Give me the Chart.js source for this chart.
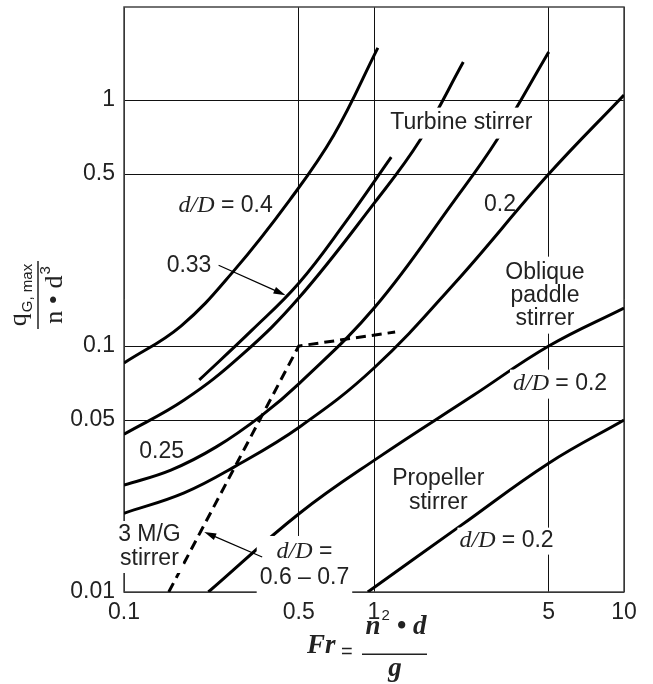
<!DOCTYPE html>
<html>
<head>
<meta charset="utf-8">
<script src="https://cdn.jsdelivr.net/npm/chart.js@4.4.1/dist/chart.umd.min.js"></script>
<style>
  html, body { margin: 0; padding: 0; background: #fff; }
</style>
</head>
<body>
<canvas id="chart" width="653" height="684"></canvas>
<script>
// axis ticks
const xTickVals = [0.1, 0.5, 1, 5, 10]
const xTickText = ['0.1', '0.5', '1', '5', '10']
const yTickVals = [0.01, 0.05, 0.1, 0.5, 1]
const yTickText = ['0.01', '0.05', '0.1', '0.5', '1']

// turbine stirrer curves (Fr, qG,max / n d^3)
const turb040Fr = [0.1, 0.169, 0.277, 0.46, 0.691, 1.036]
const turb040Q  = [0.0853, 0.1206, 0.204, 0.392, 0.721, 1.63]
const turb033Fr = [0.2, 0.325, 0.5, 0.759, 1.172]
const turb033Q  = [0.0728, 0.116, 0.180, 0.313, 0.586]
const turbAFr = [0.1, 0.174, 0.296, 0.5, 1.009, 1.529, 2.276]
const turbAQ  = [0.0438, 0.0603, 0.0920, 0.1567, 0.3846, 0.688, 1.427]
const turb025Fr = [0.1, 0.154, 0.234, 0.357, 0.504, 1.009, 2.102, 3.10, 5.0]
const turb025Q  = [0.0272, 0.0313, 0.0389, 0.0524, 0.0707, 0.144, 0.392, 0.688, 1.567]
const turb020Fr = [0.1, 0.174, 0.275, 0.504, 1.0, 2.102, 5.0, 10]
const turb020Q  = [0.0209, 0.0253, 0.0322, 0.0469, 0.0814, 0.180, 0.5, 1.048]

// oblique paddle stirrer, d/D = 0.2
const paddleFr = [0.2175, 0.504, 1.036, 2.508, 5.0, 10]
const paddleQ  = [0.01, 0.0209, 0.0351, 0.0632, 0.1, 0.1427]

// propeller stirrer, d/D = 0.2
const propFr = [0.9445, 2.236, 5.0, 10]
const propQ  = [0.01, 0.0187, 0.0334, 0.05]

// 3 M/G stirrer, d/D = 0.6 - 0.7 (dashed)
const mgFr = [0.151, 0.5, 1.215]
const mgQ  = [0.01, 0.1, 0.114]

// text notes placed at (Fr, q) positions
const I = "italic 24px 'Liberation Serif'"
const S = "23px 'Liberation Sans'"
const noteFr = [0.255, 0.182, 2.236, 3.19, 4.83, 5.55, 0.1414, 1.808, 3.39, 0.1264, 0.527]
const noteQ  = [0.371, 0.213, 0.806, 0.374, 0.161, 0.070, 0.0371, 0.0258, 0.0161, 0.01524, 0.01288]
const noteLines = [
    [[['d/D', I], [' = 0.4', S]]],
    [[['0.33', S]]],
    [[['Turbine stirrer', S]]],
    [[['0.2', S]]],
    [[['Oblique', S]], [['paddle', S]], [['stirrer', S]]],
    [[['d/D', I], [' = 0.2', S]]],
    [[['0.25', S]]],
    [[['Propeller', S]], [['stirrer', S]]],
    [[['d/D', I], [' = 0.2', S]]],
    [[['3 M/G', S]], [['stirrer', S]]],
    [[['d/D', I], [' =', S]], [['0.6 \u2013 0.7', S]]]
]
const noteLineH = [23, 23, 23, 23, 23, 23, 23, 24, 23, 24, 26]
// white box behind the note (pad in px, -1 = none; width 0 = text width)
const notePad  = [-1, -1, 4, -1, 4, 3, -1, -1, 2, 2, 3]
const noteBoxW = [0, 0, 0, 0, 16, 0, 0, 0, 0, 0, 0]

// arrows from label to curve
const arrowFrom = [[0.239, 0.213], [0.357, 0.01387]]
const arrowTo   = [[0.4426, 0.161], [0.2094, 0.01754]]

function pts(xs, ys) {
    return xs.map((x, i) => ({x: x, y: ys[i]}))
}

function curve(xs, ys) {
    return {
        data: pts(xs, ys),
        borderColor: '#000',
        borderWidth: 3,
        pointRadius: 0,
        tension: 0.4,
        fill: false
    }
}

function runsWidth(ctx, runs) {
    let w = 0
    runs.forEach(r => { ctx.font = r[1]; w += ctx.measureText(r[0]).width })
    return w
}

function drawRuns(ctx, runs, cx, cy) {
    let x = cx - runsWidth(ctx, runs) / 2
    runs.forEach(r => {
        ctx.font = r[1]
        ctx.fillText(r[0], x, cy)
        x += ctx.measureText(r[0]).width
    })
}

const notes = {
    id: 'notes',
    beforeDatasetsDraw(chart) {
        const ctx = chart.ctx
        const a = chart.chartArea
        ctx.save()
        ctx.strokeStyle = '#444'
        ctx.lineWidth = 1.5
        ctx.strokeRect(a.left, a.top, a.right - a.left, a.bottom - a.top)
        ctx.restore()
    },
    afterDatasetsDraw(chart) {
        const ctx = chart.ctx
        const xs = chart.scales.x
        const ys = chart.scales.y
        ctx.save()
        ctx.textBaseline = 'middle'

        // labels, some with white boxes
        noteLines.forEach((lines, k) => {
            const cx = xs.getPixelForValue(noteFr[k])
            const cy = ys.getPixelForValue(noteQ[k])
            const lh = noteLineH[k]
            const w = noteBoxW[k] || Math.max(...lines.map(l => runsWidth(ctx, l)))
            const h = lines.length * lh
            const p = notePad[k]
            if (p >= 0) {
                ctx.fillStyle = '#fff'
                ctx.fillRect(cx - w / 2 - p, cy - h / 2 - p, w + 2 * p, h + 2 * p)
            }
            ctx.fillStyle = '#222'
            lines.forEach((l, j) => {
                drawRuns(ctx, l, cx, cy - h / 2 + lh * (j + 0.5))
            })
        })

        // arrows
        ctx.strokeStyle = '#000'
        ctx.fillStyle = '#000'
        ctx.lineWidth = 1.2
        arrowFrom.forEach((f, k) => {
            const x1 = xs.getPixelForValue(f[0]), y1 = ys.getPixelForValue(f[1])
            const x2 = xs.getPixelForValue(arrowTo[k][0]), y2 = ys.getPixelForValue(arrowTo[k][1])
            const ang = Math.atan2(y2 - y1, x2 - x1)
            ctx.beginPath()
            ctx.moveTo(x1, y1)
            ctx.lineTo(x2 - 8 * Math.cos(ang), y2 - 8 * Math.sin(ang))
            ctx.stroke()
            ctx.beginPath()
            ctx.moveTo(x2, y2)
            ctx.lineTo(x2 - 12 * Math.cos(ang) + 3.5 * Math.sin(ang), y2 - 12 * Math.sin(ang) - 3.5 * Math.cos(ang))
            ctx.lineTo(x2 - 12 * Math.cos(ang) - 3.5 * Math.sin(ang), y2 - 12 * Math.sin(ang) + 3.5 * Math.cos(ang))
            ctx.closePath()
            ctx.fill()
        })

        // y axis title: q_G,max / (n . d^3), rotated
        ctx.fillStyle = '#222'
        ctx.textBaseline = 'alphabetic'
        ctx.translate(38, 295)
        ctx.rotate(-Math.PI / 2)
        const serif = "26px 'Liberation Serif'"
        const small = "15px 'Liberation Sans'"
        ctx.font = serif
        const qw = ctx.measureText('q').width
        ctx.font = small
        const gw = ctx.measureText('G, max').width
        let x0 = -(qw + gw + 1) / 2
        ctx.font = serif
        ctx.fillText('q', x0, -12)
        ctx.font = small
        ctx.fillText('G, max', x0 + qw + 1, -6)
        ctx.fillRect(-34, -0.75, 68, 1.5)
        ctx.font = serif
        const nw = ctx.measureText('n \u2022 d').width
        ctx.font = small
        const tw = ctx.measureText('3').width
        x0 = -(nw + tw + 1) / 2
        ctx.font = serif
        ctx.fillText('n \u2022 d', x0, 24)
        ctx.font = small
        ctx.fillText('3', x0 + nw + 1, 12)
        ctx.setTransform(1, 0, 0, 1, 0, 0)

        // x axis title: Fr = n^2 . d / g
        const bi = "bold italic 27px 'Liberation Serif'"
        ctx.font = bi
        ctx.fillText('Fr', 307, 653)
        ctx.font = "20px 'Liberation Sans'"
        ctx.fillText('=', 341, 658)
        ctx.font = bi
        const n1 = ctx.measureText('n').width
        ctx.font = small
        const s2 = ctx.measureText('2').width
        ctx.font = bi
        const rest = ctx.measureText(' \u2022 d').width
        x0 = 396 - (n1 + s2 + 1 + rest) / 2
        ctx.fillText('n', x0, 634)
        ctx.font = small
        ctx.fillText('2', x0 + n1 + 1, 620)
        ctx.font = bi
        ctx.fillText(' \u2022 d', x0 + n1 + s2 + 1, 634)
        ctx.fillRect(362, 653.5, 65, 1.5)
        ctx.textAlign = 'center'
        ctx.fillText('g', 395, 676)
        ctx.restore()
    }
}

const data = {
    datasets: [
        curve(turb040Fr, turb040Q),
        curve(turb033Fr, turb033Q),
        curve(turbAFr, turbAQ),
        curve(turb025Fr, turb025Q),
        curve(turb020Fr, turb020Q),
        curve(paddleFr, paddleQ),
        curve(propFr, propQ),
        {
            data: pts(mgFr, mgQ),
            borderColor: '#000',
            borderWidth: 3,
            borderDash: [10, 6],
            pointRadius: 0,
            tension: 0,
            fill: false
        }
    ]
}

const config = {
    type: 'line',
    data: data,
    options: {
        responsive: false,
        animation: false,
        layout: { padding: { top: 7, right: 29, left: 0, bottom: 0 } },
        scales: {
            x: {
                type: 'logarithmic',
                min: 0.1,
                max: 10,
                afterFit: s => { s.height = 92; s.paddingLeft = 0; s.paddingRight = 0 },
                afterBuildTicks: s => { s.ticks = xTickVals.map(v => ({value: v})) },
                grid: { color: '#111', lineWidth: 1, drawTicks: false },
                border: { display: false },
                ticks: {
                    autoSkip: false,
                    maxRotation: 0,
                    padding: 7,
                    color: '#222',
                    font: { family: 'Liberation Sans', size: 23 },
                    callback: v => xTickText[xTickVals.indexOf(v)]
                }
            },
            y: {
                type: 'logarithmic',
                min: 0.01,
                max: 2.39,
                afterFit: s => { s.width = 124; s.paddingTop = 0; s.paddingBottom = 0 },
                afterBuildTicks: s => { s.ticks = yTickVals.map(v => ({value: v})) },
                grid: { color: '#111', lineWidth: 1, drawTicks: false },
                border: { display: false },
                ticks: {
                    autoSkip: false,
                    padding: 9,
                    color: '#222',
                    font: { family: 'Liberation Sans', size: 23 },
                    callback: v => yTickText[yTickVals.indexOf(v)]
                }
            }
        },
        plugins: {
            legend: { display: false },
            tooltip: { enabled: false }
        }
    },
    plugins: [notes]
}

new Chart(document.querySelector('#chart'), config)
</script>
</body>
</html>
